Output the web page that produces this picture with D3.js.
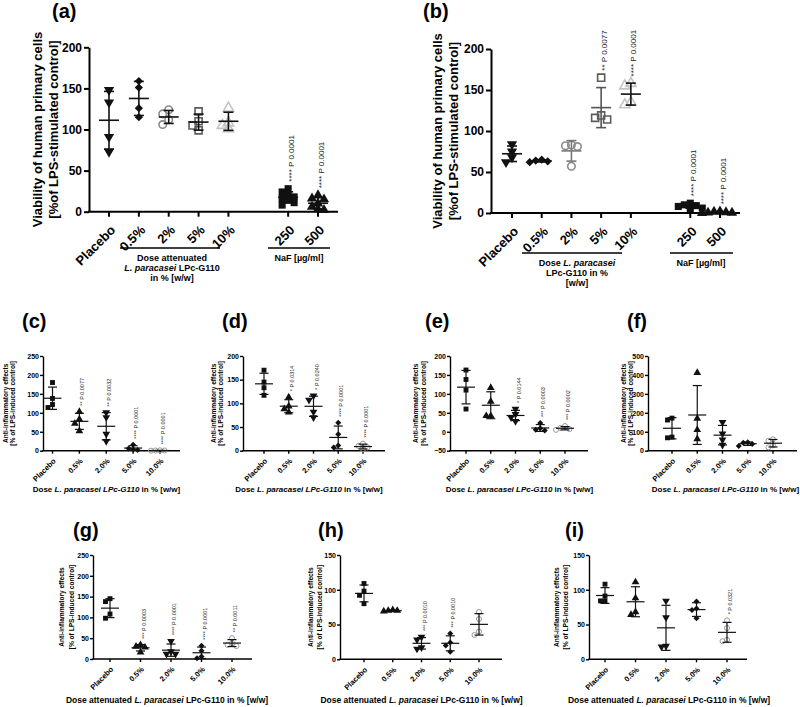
<!DOCTYPE html>
<html><head><meta charset="utf-8">
<script src="https://cdn.jsdelivr.net/npm/d3@7"></script>
<style>body{margin:0;background:#fff}svg{display:block}</style>
</head><body>
<svg id="chart" width="800" height="707"></svg>
<script>
// ---------------- DATA ----------------
const viabilityCategories = ["Placebo", "0.5%", "2%", "5%", "10%", "250", "500"];
const viabilityTicks = [0, 50, 100, 150, 200];
const viabilityA = [[148,133,91,73],[159,151,126,115],[124,119,112,106],[122,110,105,99],[126,108,105,101],[28,24,21,18,16,14,11,8],[20,16,15,10,6,3,2]];
const viabilityANotes = [null,null,null,null,null,"**** P 0.0001","**** P 0.0001"];
const viabilityB = [[84,75,68,62],[65,64,63,62],[83,82,81,57],[165,119,116,114],[158,155,135,132],[12,10,9,8,6,5],[2,1.5,1,0.5,0.3,0]];
const viabilityBNotes = [null,null,null,"** P 0.0077","**** P 0.0001","**** P 0.0001","**** P 0.0001"];

const doseCategories = ["Placebo", "0.5%", "2.0%", "5.0%", "10.0%"];
const cValues = [[180,138,122,114],[103,83,72,52],[101,88,44,25],[16,6,4,2],[1,0.5,0.5,0]];
const cNotes = [null,"** P 0.0077","** P 0.0032","**** P 0.0001","**** P 0.0001"];
const cTicks = [0,50,100,150,200,250];
const dValues = [[170,145,133,117],[113,94,88,81],[116,107,82,70],[59,35,11,7],[15,10,7,3]];
const dNotes = [null,"* P 0.0314","* P 0.0240","**** P 0.0001","**** P 0.0001"];
const dTicks = [0,50,100,150,200];
const eValues = [[163,138,110,60],[116,80,42,42],[60,46,38,28],[23,9,5,3],[15,10,7,5]];
const eNotes = [null,null,"* P 0.0144","*** P 0.0003","*** P 0.0002"];
const eTicks = [-50,0,50,100,150,200];
const fValues = [[172,162,72,68],[412,170,110,62],[150,90,58,30],[45,42,35,25],[60,52,28,18]];
const fNotes = [null,null,null,null,null];
const fTicks = [0,100,200,300,400,500];
const gValues = [[145,138,108,98],[34,30,28,16],[43,18,12,12],[32,20,6,2],[50,38,34,31]];
const gNotes = [null,"*** P 0.0003","**** P 0.0001","**** P 0.0001","** P 0.0011"];
const gTicks = [0,50,100,150,200,250];
const hValues = [[109,98,92,80],[71,70,69,70],[32,28,17,15],[37,24,20,11],[68,58,40,35]];
const hNotes = [null,null,"*** P 0.0010","*** P 0.0010",null];
const hTicks = [0,50,100,150];
const iValues = [[108,91,84,84],[111,88,68,64],[84,60,19,18],[83,73,71,59],[56,45,28,26]];
const iNotes = [null,null,null,null,"* P 0.0321"];
const iTicks = [0,50,100,150];

const viabilityTitle = ["Viability of human primary cells", "[%of LPS-stimulated control]"];
const antiTitle = ["Anti-inflammatory effects", "[% of LPS-induced control]"];

// ---------------- STYLE ----------------
const FONT = '"Liberation Sans", Arial, Helvetica, sans-serif';
const stylesAB = [
  {shape:"down", fill:"#111"}, {shape:"diamond", fill:"#111"},
  {shape:"circle", fill:"none", stroke:"#8a8a8a"}, {shape:"square", fill:"none", stroke:"#5c5c5c"},
  {shape:"up", fill:"none", stroke:"#c4c4c4"}, {shape:"square", fill:"#111"}, {shape:"up", fill:"#111"}
];
const stylesSmall = [
  {shape:"square", fill:"#111"}, {shape:"up", fill:"#111"}, {shape:"down", fill:"#111"},
  {shape:"diamond", fill:"#111"}, {shape:"circle", fill:"none", stroke:"#999"}
];
const sizeBig = {tickFont:12, catFont:13, titleFont:13, noteFont:8, axisW:2, barW:1.6, tick:5, pad:2, mean:10, cap:5,
  area:{square:50,circle:44,up:46,down:46,diamond:34}, spread:6, openW:1.6, catDx:4, catDy:16, half:4};
const sizeSmall = {tickFont:7, catFont:7.5, titleFont:6.6, noteFont:5.5, axisW:1.4, barW:1.2, tick:3, pad:1, mean:9, cap:4.5,
  area:{square:24,circle:20,up:26,down:26,diamond:18}, spread:4.5, openW:1, catDx:2, catDy:9, half:3};

const svg = d3.select("#chart");
svg.append("rect").attr("width",800).attr("height",707).attr("fill","#fff");

function symbolPath(shape, area){
  if (shape==="square" || shape==="diamond") return d3.symbol(d3.symbolSquare, area)();
  if (shape==="circle") return d3.symbol(d3.symbolCircle, area)();
  return d3.symbol(d3.symbolTriangle, area)();
}
function symbolRot(shape){ return shape==="down" ? 180 : (shape==="diamond" ? 45 : 0); }

function drawPanel(P, cats, vals, notes, ticks, styles, S, title){
  const g = svg.append("g");
  const y = d3.scaleLinear().domain(P.domain).range([P.y0, P.yTop]);
  const nSlots = P.slots ? P.slots[P.slots.length-1]+1 : cats.length;
  const x = d3.scaleLinear().domain([0, nSlots-1]).range([P.xFirst, P.xLast]);
  const slotX = i => x(P.slots ? P.slots[i] : i);

  // y axis
  const ax = g.append("g").attr("transform", `translate(${P.axisX},0)`)
    .call(d3.axisLeft(y).tickValues(ticks).tickSize(S.tick).tickSizeOuter(0).tickPadding(S.pad));
  ax.attr("font-family", FONT).attr("font-size", S.tickFont);
  ax.select(".domain").attr("stroke","#000").attr("stroke-width",S.axisW);
  ax.selectAll(".tick line").attr("stroke","#000").attr("stroke-width",S.axisW);
  ax.selectAll(".tick text").attr("font-weight","bold").attr("fill","#000");

  // x axis
  g.append("line").attr("x1",P.axisX - S.axisW/2).attr("x2",P.axisEnd)
    .attr("y1",P.y0).attr("y2",P.y0).attr("stroke","#000").attr("stroke-width",S.axisW);
  cats.forEach((c,i)=>{
    const cx = slotX(i);
    g.append("line").attr("x1",cx).attr("x2",cx).attr("y1",P.y0).attr("y2",P.y0+S.tick)
      .attr("stroke","#000").attr("stroke-width",S.axisW);
    g.append("text").attr("transform",`translate(${cx+S.catDx},${P.y0+S.catDy}) rotate(-45)`)
      .attr("text-anchor","end").attr("dy","0.35em").attr("font-family",FONT)
      .attr("font-size",S.catFont).attr("font-weight","bold").text(c);
  });

  // groups
  vals.forEach((v,i)=>{
    const cx = slotX(i), st = styles[i];
    const sorted = v.slice().sort((a,b)=>b-a);
    const placed = [];
    sorted.forEach(val=>{
      const py = y(val);
      let off = 0;
      for (let k=0;k<12;k++){
        const m = k===0?0:(k%2===1?-Math.ceil(k/2):Math.ceil(k/2));
        const ox = m*S.spread;
        if (!placed.some(q=>Math.abs(q.ox-ox)<S.spread*0.9 && Math.abs(q.py-py)<S.spread*0.95)){ off = ox; break; }
      }
      placed.push({ox:off, py});
      g.append("path").attr("d", symbolPath(st.shape, S.area[st.shape]))
        .attr("transform",`translate(${cx+off},${py}) rotate(${symbolRot(st.shape)})`)
        .attr("fill", st.fill).attr("stroke", st.stroke || "none")
        .attr("stroke-width", st.stroke ? S.openW : 0);
    });
    const mean = d3.mean(v), sd = d3.deviation(v) || 0;
    const lc = st.line || "#111";
    const hi = y(mean+sd), lo = y(Math.max(mean-sd, P.domain[0]));
    const line = (x1,y1,x2,y2)=>g.append("line").attr("x1",x1).attr("y1",y1).attr("x2",x2).attr("y2",y2)
      .attr("stroke",lc).attr("stroke-width",S.barW);
    line(cx-S.mean, y(mean), cx+S.mean, y(mean));
    line(cx, hi, cx, lo);
    line(cx-S.cap, hi, cx+S.cap, hi);
    line(cx-S.cap, lo, cx+S.cap, lo);
    if (notes[i]){
      const top = Math.min(y(d3.max(v)) - S.half, hi) - 3;
      g.append("text").attr("transform",`translate(${cx+3},${top}) rotate(-90)`)
        .attr("dominant-baseline","central").attr("font-family",FONT)
        .attr("font-size",S.noteFont).attr("fill", st.noteColor || "#222").text(notes[i]);
    }
  });

  // y title
  const cy = (P.y0+P.yTop)/2;
  title.forEach((t,k)=>{
    g.append("text").attr("transform",`translate(${P.titleX[k]},${cy}) rotate(-90)`)
      .attr("text-anchor","middle").attr("dominant-baseline","central")
      .attr("font-family",FONT).attr("font-size",S.titleFont).attr("font-weight","bold").text(t);
  });
  // panel label
  g.append("text").attr("x",P.labelX).attr("y",P.labelY).attr("font-family",FONT)
    .attr("font-size",20).attr("font-weight","bold").text(P.label);
  return g;
}

function richText(g, x, yy, size, parts){
  const t = g.append("text").attr("x",x).attr("y",yy).attr("text-anchor","middle")
    .attr("font-family",FONT).attr("font-size",size).attr("font-weight","bold");
  parts.forEach(p=>{ t.append("tspan").attr("font-style", p[1]?"italic":"normal").text(p[0]); });
}
function bracket(g, x1, x2, yy){
  g.append("line").attr("x1",x1).attr("x2",x2).attr("y1",yy).attr("y2",yy).attr("stroke","#000").attr("stroke-width",1.6);
}

// -------- panel (a) --------
const gA = drawPanel({domain:[0,200], y0:211.7, yTop:47.3, axisX:89, axisEnd:338, xFirst:109, xLast:318,
  slots:[0,1,2,3,4,6,7], titleX:[37,53], labelX:52, labelY:18, label:"(a)"},
  viabilityCategories, viabilityA, viabilityANotes, viabilityTicks, stylesAB, sizeBig, viabilityTitle);
bracket(gA, 120, 220, 248);
richText(gA, 172, 261, 9, [["Dose attenuated",false]]);
richText(gA, 172, 271, 9, [["L. paracasei",true],[" LPc-G110",false]]);
richText(gA, 172, 281, 9, [["in % [w/w]",false]]);
bracket(gA, 268, 330, 248);
richText(gA, 299, 261, 9, [["NaF [µg/ml]",false]]);

// -------- panel (b) --------
const stylesB = stylesAB.map((s,i)=> i===2 ? Object.assign({}, s, {line:"#777"}) : (i===3 ? Object.assign({}, s, {line:"#555"}) : s));
const gB = drawPanel({domain:[0,200], y0:213, yTop:49, axisX:491, axisEnd:740, xFirst:512, xLast:720,
  slots:[0,1,2,3,4,6,7], titleX:[437,453], labelX:423, labelY:18, label:"(b)"},
  viabilityCategories, viabilityB, viabilityBNotes, viabilityTicks, stylesB, sizeBig, viabilityTitle);
bracket(gB, 522, 622, 253);
richText(gB, 577, 266, 9, [["Dose ",false],["L. paracasei",true]]);
richText(gB, 577, 276, 9, [["LPc-G110 in %",false]]);
richText(gB, 577, 286, 9, [["[w/w]",false]]);
bracket(gB, 670, 733, 253);
richText(gB, 701, 266, 9, [["NaF [µg/ml]",false]]);

// -------- small panels --------
const bottomCF = [["Dose ",false],["L. paracasei LPc-G110",true],[" in % [w/w]",false]];
const bottomGI = [["Dose attenuated ",false],["L. paracasei",true],[" LPc-G110 in % [w/w]",false]];

const gC = drawPanel({domain:[0,250], y0:450.7, yTop:356, axisX:43, axisEnd:180, xFirst:52.5, xLast:160,
  titleX:[5,12.5], labelX:22, labelY:328, label:"(c)"}, doseCategories, cValues, cNotes, cTicks, stylesSmall, sizeSmall, antiTitle);
richText(gC, 106.5, 492, 8, bottomCF);
const gD = drawPanel({domain:[0,200], y0:450.7, yTop:356, axisX:243, axisEnd:385, xFirst:264, xLast:363,
  titleX:[213,220], labelX:222, labelY:328, label:"(d)"}, doseCategories, dValues, dNotes, dTicks, stylesSmall, sizeSmall, antiTitle);
richText(gD, 309, 492, 8, bottomCF);
const gE = drawPanel({domain:[-50,200], y0:450.7, yTop:356, axisX:450, axisEnd:588, xFirst:466, xLast:565,
  titleX:[415,423], labelX:425, labelY:328, label:"(e)"}, doseCategories, eValues, eNotes, eTicks, stylesSmall, sizeSmall, antiTitle);
richText(gE, 519.5, 492, 8, bottomCF);
const gF = drawPanel({domain:[0,500], y0:450.7, yTop:356, axisX:648, axisEnd:797, xFirst:672, xLast:773,
  titleX:[623,630], labelX:627, labelY:328, label:"(f)"}, doseCategories, fValues, fNotes, fTicks, stylesSmall, sizeSmall, antiTitle);
richText(gF, 725.5, 492, 8, bottomCF);

const gG = drawPanel({domain:[0,250], y0:659, yTop:555, axisX:93, axisEnd:252, xFirst:110, xLast:232,
  titleX:[61.5,71], labelX:73, labelY:537, label:"(g)"}, doseCategories, gValues, gNotes, gTicks, stylesSmall, sizeSmall, antiTitle);
richText(gG, 167, 703, 8.5, bottomGI);
const gH = drawPanel({domain:[0,150], y0:659.3, yTop:555, axisX:340, axisEnd:502, xFirst:364, xLast:479,
  titleX:[310,319], labelX:318, labelY:537, label:"(h)"}, doseCategories, hValues, hNotes, hTicks, stylesSmall, sizeSmall, antiTitle);
richText(gH, 421.5, 703, 8.5, bottomGI);
const gI = drawPanel({domain:[0,150], y0:659.3, yTop:555, axisX:589, axisEnd:747, xFirst:605, xLast:727,
  titleX:[556,565], labelX:565, labelY:537, label:"(i)"}, doseCategories, iValues, iNotes, iTicks, stylesSmall, sizeSmall, antiTitle);
richText(gI, 669, 703, 8.5, bottomGI);
</script>
</body></html>
